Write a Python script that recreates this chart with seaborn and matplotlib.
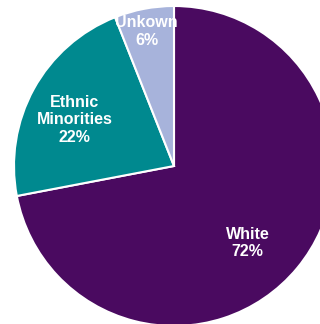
import matplotlib
matplotlib.use('Agg')
import matplotlib.pyplot as plt
import seaborn as sns

sns.set_style('white')
plt.rcParams['font.family'] = ['Liberation Sans', 'DejaVu Sans']

# data
groups  = ['White', 'Ethnic\nMinorities', 'Unkown']
shares  = [72, 22, 6]
colors  = ['#4a0a60', '#00898f', '#a7b3db']

# label positions (in units of pie radius)
label_xy = [(0.46, -0.48), (-0.62, 0.29), (-0.17, 0.84)]

fig = plt.figure(figsize=(3.2, 3.24), dpi=100)
ax = fig.add_axes([0, 0, 1, 1])

ax.pie(shares, colors=colors, startangle=90, counterclock=False,
       wedgeprops=dict(edgecolor='white', linewidth=1.5))

for name, val, (x, y) in zip(groups, shares, label_xy):
    ax.text(x, y, f'{name}\n{val}%', ha='center', va='center', color='white',
            fontsize=11.5, fontweight='bold', linespacing=1.2)

ax.set_aspect('auto')
ax.set_xlim(-174/160, (320-174)/160)
ax.set_ylim(-(324-166)/160, 166/160)
ax.axis('off')

plt.savefig('out.png', dpi=100)
